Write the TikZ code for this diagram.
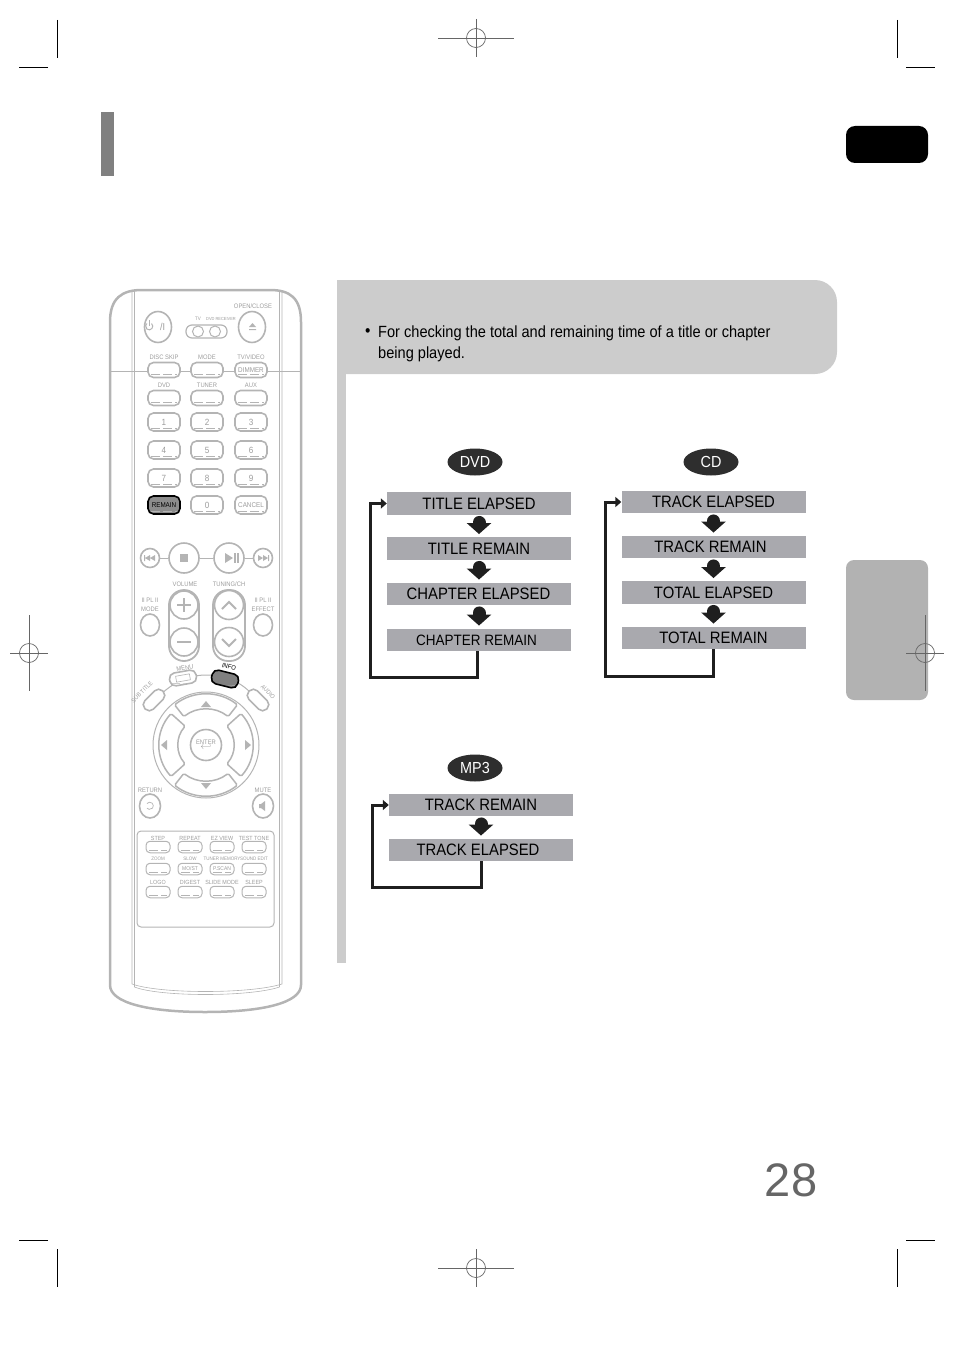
\documentclass[tikz,border=0pt]{standalone}
\usepackage{fontspec}
\setmainfont{Liberation Sans}
\newfontfamily\narrowfont[FakeStretch=0.9]{Liberation Sans}
\usetikzlibrary{arrows.meta,shapes.geometric}
\definecolor{panelgray}{HTML}{CCCCCC}
\definecolor{boxgray}{HTML}{A9A9AE}
\definecolor{keygray}{HTML}{B4B4B4}
\definecolor{inkgray}{HTML}{9C9C9C}
\newcommand{\sz}[1]{\fontsize{#1}{#1}\selectfont}
\begin{document}
\begin{tikzpicture}
[x=1pt,y=-1pt,-,%
  flowbox/.style={shape=rectangle,fill=boxgray,minimum width=184pt,minimum height=22.5pt,inner sep=0pt,font=\narrowfont\sz{16.5}},%
  badge/.style={shape=ellipse,fill=black!82,text=white,minimum width=55pt,minimum height=27pt,inner sep=0pt,font=\narrowfont\sz{16}},%
  fatarrow/.style={line width=13pt,draw=black!88,line cap=round,shorten <=7.5pt,shorten >=3pt,-{Triangle[width=24pt,length=11pt]}},%
  backline/.style={line width=3pt,draw=black!88,-{Triangle[width=10pt,length=6pt]}},%
  crop/.style={line width=1pt,draw=black},%
  target/.style={line width=0.7pt,draw=black!60},%
  key/.style={shape=rectangle,rounded corners=5.5pt,draw=keygray,line width=1.6pt,fill=white,minimum width=32pt,minimum height=15pt,inner sep=0pt,text=inkgray,font=\narrowfont\sz{9},%
    path picture={\draw[keygray,line width=0.5pt,dash pattern=on 9pt off 3pt] ([xshift=3pt,yshift=3pt]path picture bounding box.south west) -- ([xshift=-3pt,yshift=3pt]path picture bounding box.south east);}},%
  numkey/.style={key,minimum height=18pt},%
  lowkey/.style={key,line width=1pt,minimum width=24pt,minimum height=11.5pt,rounded corners=4pt,font=\narrowfont\sz{5.5}},%
  roundkey/.style={shape=circle,draw=keygray,line width=1.6pt,fill=white,inner sep=0pt,text=inkgray},%
  ovalkey/.style={roundkey,shape=ellipse},%
  keytag/.style={shape=rectangle,inner sep=0pt,text=inkgray,font=\narrowfont\sz{6.5}},%
  shell/.style={draw=keygray,line width=1pt},%
  glyph/.style={fill=keygray,draw=none}]
\useasboundingbox (0,0) rectangle (954,1351);

% page furniture
\fill[black!50] (101,112) rectangle (114,176);
\fill[black,rounded corners=9pt] (846,126) rectangle (928,163);
\fill[black!30,rounded corners=8pt] (846,560) rectangle (928,700);
\fill[panelgray] (337,280) rectangle (346,963);
\fill[panelgray] (337,280) [rounded corners=22pt] -- (837,280) -- (837,374) [sharp corners] -- (337,374) -- cycle;
\node[text=black!60,inner sep=0pt,font=\sz{47}] (pagenum) at (791,1180) {28};

% crop marks
\foreach \x/\d in {57/-1,897/1} {
  \draw[crop] (\x,20) -- (\x,58);
  \draw[crop] (\x,1249) -- (\x,1287);
  \draw[crop] (\x+\d*9,68) -- (\x+\d*38,68);
  \draw[crop] (\x+\d*9,1240) -- (\x+\d*38,1240);
}
\foreach \x/\y/\w/\h in {476/38/38/19,476/1268/38/19,29/653/19/38,925/653/19/38} {
  \draw[target] (\x,\y) circle (9.5);
  \draw[target] (\x-\w,\y) -- (\x+\w,\y);
  \draw[target] (\x,\y-\h) -- (\x,\y+\h);
}

% instruction text
\node[anchor=base west,inner sep=0pt,font=\narrowfont\sz{17}] (dot) at (365,336) {\textbullet};
\node[anchor=north west,inner sep=0pt,align=left,font=\narrowfont\fontsize{16.2}{21}\selectfont] (intro) at (378,325.5)
  {For checking the total and remaining time of a title or chapter\\being played.};

% flows
\node[badge] (dvd) at (475,462) {DVD};
\node[badge] (cd) at (711,462) {CD};
\node[badge] (mp) at (475,768) {MP3};

\node[flowbox] (d1) at (479,503.5) {TITLE ELAPSED};
\node[flowbox] (d2) at (479,548.5) {TITLE REMAIN};
\node[flowbox] (d3) at (479,594) {\hspace*{-1pt}CHAPTER ELAPSED};
\node[flowbox,font=\narrowfont\sz{15}] (d4) at (479,640) {\hspace*{-5pt}CHAPTER REMAIN};
\foreach \a/\b in {d1/d2,d2/d3,d3/d4} \draw[fatarrow] (\a) -- (\b);
\draw[backline] ([xshift=-2pt]d4.south) |- (370.5,677) |- (d1.west);

\node[flowbox] (c1) at (713.5,502) {TRACK ELAPSED};
\node[flowbox] (c2) at (713.5,547) {\hspace*{-6pt}TRACK REMAIN};
\node[flowbox] (c3) at (713.5,592.5) {TOTAL ELAPSED};
\node[flowbox] (c4) at (713.5,638) {TOTAL REMAIN};
\foreach \a/\b in {c1/c2,c2/c3,c3/c4} \draw[fatarrow] (\a) -- (\b);
\draw[backline] (c4.south) |- (605.5,676) |- (c1.west);

\node[flowbox] (m1) at (481,805) {TRACK REMAIN};
\node[flowbox] (m2) at (481,850) {\hspace*{-6pt}TRACK ELAPSED};
\draw[fatarrow] (m1) -- (m2);
\draw[backline] (m2.south) |- (372.5,887) |- (m1.west);

% remote body
\draw[shell,line width=2.5pt] (110,322) .. controls (110,298) and (122,290) .. (142,290) -- (270,290) .. controls (290,290) and (301,298) .. (301,322)
  -- (301,985) .. controls (301,1003) and (262,1012) .. (205,1012) .. controls (149,1012) and (110,1003) .. (110,985) -- cycle;
\draw[shell,line width=0.6pt] (132,291) -- (132,984) .. controls (160,994) and (250,994) .. (282,984) -- (282,291);
\draw[shell,line width=0.6pt] (134.5,291) -- (134.5,987) .. controls (160,997) and (250,997) .. (279.5,987) -- (279.5,291);
\draw[shell] (111,371) -- (300,371);

\node[ovalkey,minimum width=27pt,minimum height=31pt,font=\narrowfont\sz{10}] (power) at (158,327) {\hspace*{9pt}/I};
\draw[shell] (151.5,323.5) arc (-50:230:3.6);
\draw[shell] (149.5,320) -- (149.5,326);
\draw[rounded corners=6pt,shell,line width=1.2pt] (186,325) rectangle (227,338);
\node[roundkey,minimum width=11pt,line width=1pt] (tv) at (198,331.5) {};
\node[roundkey,minimum width=11pt,line width=1pt] (rcv) at (215,331.5) {};
\node[keytag,font=\narrowfont\sz{5}] (tvtag) at (198,319) {TV};
\node[keytag,font=\narrowfont\sz{4.4}] (rcvtag) at (221,319) {DVD RECEIVER};
\node[ovalkey,minimum width=27pt,minimum height=31pt] (open) at (252,327) {};
\fill[glyph] (249,327) -- (252.5,323) -- (256,327) -- cycle (249,329) rectangle (256,330);
\node[keytag] (opentag) at (253,306) {OPEN/CLOSE};

\foreach \name/\x/\t in {discskip/164/DISC SKIP,mode/207/MODE,tvvideo/251/{TV/VIDEO}}
  \node[keytag] (\name) at (\x,357) {\t};
\node[key] (k11) at (164,370) {};
\node[key] (k12) at (207,370) {};
\node[key,font=\narrowfont\sz{7}] (k13) at (251,370) {DIMMER};
\foreach \name/\x/\t in {dvdkey/164/DVD,tuner/207/TUNER,aux/251/AUX} {
  \node[keytag] (\name tag) at (\x,385) {\t};
  \node[key] (\name) at (\x,398) {};
}
\foreach \t/\x/\y in {1/164/422,2/207/422,3/251/422,4/164/450,5/207/450,6/251/450,7/164/478,8/207/478,9/251/478,0/207/505}
  \node[numkey] (n\t) at (\x,\y) {\t};
\node[numkey,fill=black!45,draw=black,text=black,font=\narrowfont\sz{7}] (remain) at (164,505) {REMAIN};
\node[numkey,font=\narrowfont\sz{7}] (cancel) at (251,505) {CANCEL};

\node[roundkey,minimum width=19pt] (prev) at (150,558) {};
\node[roundkey,minimum width=30pt] (stop) at (184,558) {};
\node[roundkey,minimum width=30pt] (play) at (229,558) {};
\node[roundkey,minimum width=19pt] (next) at (263,558) {};
\draw[shell] (prev) -- (stop) -- (play) -- (next);
\fill[glyph] (180,554) rectangle (188,562);
\fill[glyph] (225,553) -- (233,558) -- (225,563) -- cycle;
\fill[glyph] (234,553) rectangle (235.5,563);
\fill[glyph] (237,553) rectangle (238.5,563);
\fill[glyph] (144,555) rectangle (145,561) (150,555) -- (145,558) -- (150,561) -- cycle (155,555) -- (150,558) -- (155,561) -- cycle;
\fill[glyph] (268,555) rectangle (269,561) (258,555) -- (263,558) -- (258,561) -- cycle (263,555) -- (268,558) -- (263,561) -- cycle;

\node[keytag] (voltag) at (185,584) {VOLUME};
\node[keytag] (tuntag) at (229,584) {TUNING/CH};
\draw[shell,line width=1.8pt,rounded corners=15pt] (169,590) rectangle (199,661);
\draw[shell,line width=1.8pt,rounded corners=15pt] (213,590) rectangle (245,661);
\node[roundkey,minimum width=28pt] (volup) at (184,605) {};
\node[roundkey,minimum width=28pt] (voldn) at (184,642) {};
\node[roundkey,minimum width=29pt] (chup) at (229,605) {};
\node[roundkey,minimum width=29pt] (chdn) at (229,642) {};
\draw[shell,line width=1.8pt] (177,605) -- (191,605) (184,598) -- (184,612) (177,642) -- (191,642);
\draw[shell,line width=1.8pt] (222,609) -- (229,602) -- (236,609) (222,639) -- (229,646) -- (236,639);

\node[keytag] (pl1) at (150,600) {II PL II};
\node[keytag] (modetag) at (150,609) {MODE};
\node[keytag] (pl2) at (263,600) {II PL II};
\node[keytag] (efftag) at (263,609) {EFFECT};
\node[ovalkey,minimum width=19pt,minimum height=22pt] (modekey) at (150,625) {};
\node[ovalkey,minimum width=19pt,minimum height=22pt] (effkey) at (263,625) {};

% cursor pad
\draw[shell] (206,745) circle (53);
\draw[shell] (154,702) .. controls (170,682) and (190,675) .. (206,675) .. controls (225,675) and (245,682) .. (258,702);
\foreach \a/\ro/\ri/\w in {0/47/28/42,90/51/36/38,180/47/28/42,270/51/36/38}
  \filldraw[draw=keygray,fill=white,line width=1.5pt,rounded corners=1.5pt,shift={(206,745)}]
    (\a-\w:\ro) arc (\a-\w:\a+\w:\ro) -- (\a+\w:\ri) arc (\a+\w:\a-\w:\ri) -- cycle;
\fill[glyph] (201,707) -- (206,701) -- (211,707) -- cycle;
\fill[glyph] (201,783) -- (206,789) -- (211,783) -- cycle;
\fill[glyph] (167,740) -- (161,745) -- (167,750) -- cycle;
\fill[glyph] (245,740) -- (251,745) -- (245,750) -- cycle;
\node[roundkey,minimum width=31pt,align=center,font=\narrowfont\sz{6.5}] (enter) at (206,745) {ENTER\\[-1pt]{\sz{10}$\hookleftarrow$}};

\node[key,rotate=10,minimum width=27pt,minimum height=13pt] (menu) at (183,678) {};
\node[shape=rectangle,draw=keygray,line width=0.6pt,rotate=10,minimum width=14pt,minimum height=6pt,inner sep=0pt] (menuicon) at (183,678) {};
\node[keytag,rotate=10] (menutag) at (185,668) {MENU};
\node[key,rotate=-14,minimum width=27pt,minimum height=14pt,fill=black!50,draw=black] (info) at (225,679) {};
\node[keytag,rotate=-15,text=black] (infotag) at (229,667) {INFO};
\node[key,rotate=45,minimum width=25pt,minimum height=12pt] (subkey) at (154,700) {};
\node[keytag,rotate=45,font=\narrowfont\sz{6}] (subtag) at (142,692) {SUB TITLE};
\node[key,rotate=-45,minimum width=25pt,minimum height=12pt] (audkey) at (258,700) {};
\node[keytag,rotate=-45,font=\narrowfont\sz{6}] (audtag) at (268,692) {AUDIO};

\node[keytag] (rettag) at (150,790) {RETURN};
\node[ovalkey,minimum width=21pt,minimum height=24pt] (retkey) at (150,806) {};
\draw[shell,line width=0.7pt] (147,803.5) arc (220:500:3.6);
\node[keytag] (mutetag) at (263,790) {MUTE};
\node[ovalkey,minimum width=21pt,minimum height=24pt] (mutekey) at (263,806) {};
\fill[glyph] (259,804) rectangle (261,808) (261,804) -- (265,801) -- (265,811) -- (261,808) -- cycle;

% lower panel
\draw[shell,rounded corners=4pt] (137,831) rectangle (274,927);
\foreach \name/\x/\t in {a/158/STEP,b/190/REPEAT,c/222/EZ VIEW,d/254/TEST TONE} {
  \node[keytag,font=\narrowfont\sz{6}] (\name tag1) at (\x,838) {\t};
  \node[lowkey] (\name key1) at (\x,847) {};
}
\foreach \name/\x/\t/\i in {a/158/ZOOM/,b/190/SLOW/{MO/ST},c/222/{TUNER MEMORY}/P.SCAN,d/254/SOUND EDIT/} {
  \node[keytag,font=\narrowfont\sz{5}] (\name tag2) at (\x,859) {\t};
  \node[lowkey] (\name key2) at (\x,869) {\i};
}
\foreach \name/\x/\t in {a/158/LOGO,b/190/DIGEST,c/222/SLIDE MODE,d/254/SLEEP} {
  \node[keytag,font=\narrowfont\sz{6}] (\name tag3) at (\x,882) {\t};
  \node[lowkey] (\name key3) at (\x,892) {};
}
\end{tikzpicture}
\end{document}
